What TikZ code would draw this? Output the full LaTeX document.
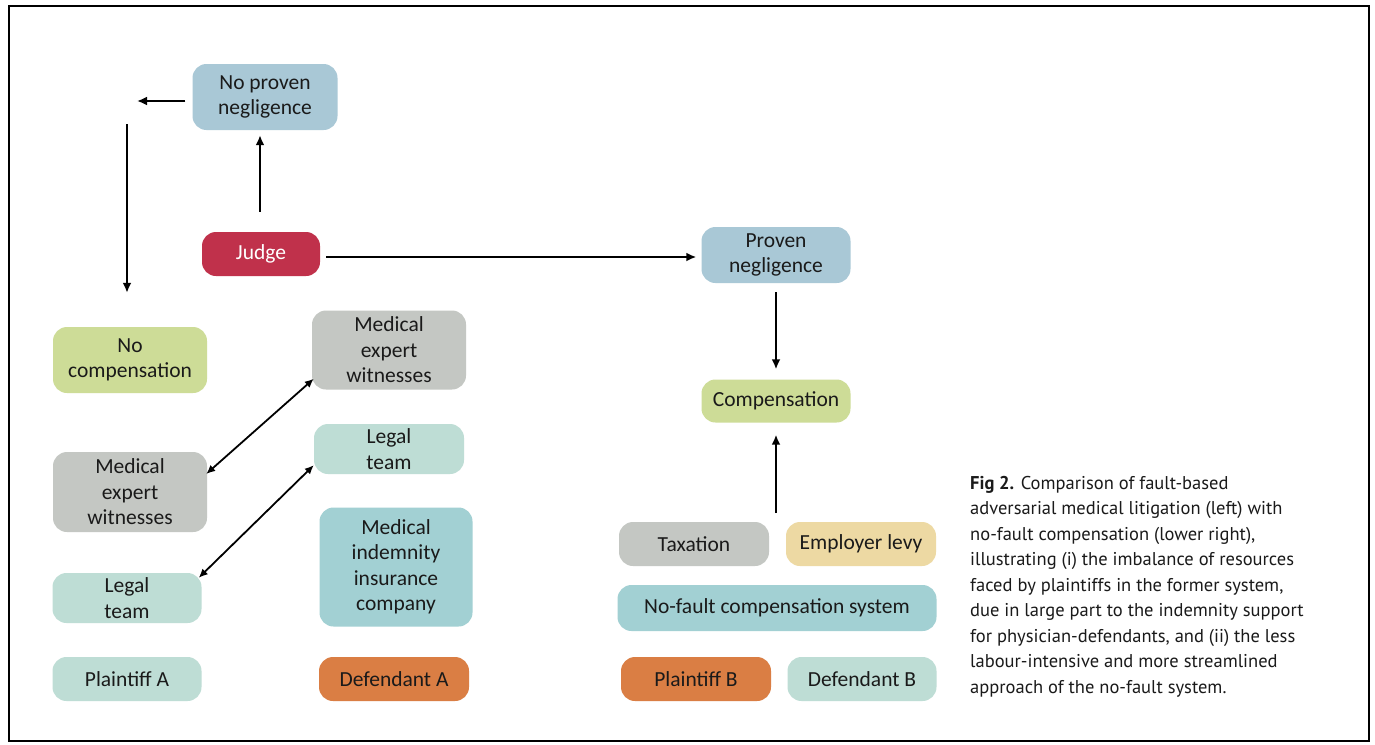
\documentclass[tikz,border=0pt]{standalone}
\usepackage{fontspec}
\setmainfont{Carlito}
\newfontfamily\capfont{PT Sans}
\usetikzlibrary{arrows.meta}
\definecolor{cblue}{HTML}{A9C8D6}
\definecolor{cjudge}{HTML}{C0314B}
\definecolor{cgreen}{HTML}{CDDC97}
\definecolor{cgrey}{HTML}{C4C7C3}
\definecolor{clteal}{HTML}{BEDDD5}
\definecolor{cteal}{HTML}{A2D0D3}
\definecolor{corange}{HTML}{DA7E44}
\definecolor{cbeige}{HTML}{EDD9A3}
\definecolor{ctext}{HTML}{1A1A1A}
\begin{document}
\begin{tikzpicture}[x=1pt,y=-1pt,
  box/.style={rounded corners=14pt, inner sep=0pt, align=center,
    font=\fontsize{21.5}{25.5}\selectfont, text=ctext},
  arr/.style={line width=2.2pt, -{Latex[length=10pt,width=9pt]}},
  darr/.style={line width=1.8pt, {Latex[length=9pt,width=8pt]}-{Latex[length=9pt,width=8pt]}}]
\useasboundingbox (0,0) rectangle (1375,744);
\fill[white] (0,0) rectangle (1375,744);
\draw[line width=2pt] (9,6) rectangle (1369,741);

% left / top
\node[box, fill=cblue, minimum width=145pt, minimum height=66pt] (np) at (265,97) {No proven\\negligence};
\node[box, fill=cjudge, text=white, minimum width=118pt, minimum height=44pt] (judge) at (261,254) {Judge};
\node[box, fill=cblue, minimum width=149pt, minimum height=56pt] (pn) at (776,255) {Proven\\negligence};
\node[box, fill=cgreen, minimum width=154pt, minimum height=66pt] (nc) at (130,360) {No\\compensation};
\node[box, fill=cgrey, minimum width=154pt, minimum height=79pt] (mewR) at (389,350) {Medical\\expert\\witnesses};
\node[box, fill=clteal, minimum width=150pt, minimum height=50pt] (legR) at (389,449) {Legal\\team};
\node[box, fill=cgrey, minimum width=154pt, minimum height=80pt] (mewL) at (130,492) {Medical\\expert\\witnesses};
\node[box, fill=cteal, minimum width=153pt, minimum height=119pt] (mic) at (396,567) {Medical\\indemnity\\insurance\\company};
\node[box, fill=clteal, minimum width=149pt, minimum height=50pt] (legL) at (127,598) {Legal\\team};
\node[box, fill=clteal, minimum width=149pt, minimum height=44pt] (pa) at (127,679) {Plaintiff A};
\node[box, fill=corange, minimum width=150pt, minimum height=44pt] (da) at (394,679) {Defendant A};

% right
\node[box, fill=cgreen, minimum width=149pt, minimum height=43pt] (comp) at (776,401) {Compensation};
\node[box, fill=cgrey, minimum width=150pt, minimum height=44pt] (tax) at (694,544) {Taxation};
\node[box, fill=cbeige, minimum width=150pt, minimum height=44pt] (lev) at (861,544) {Employer levy};
\node[box, fill=cteal, minimum width=319pt, minimum height=46pt] (nf) at (777,608) {No-fault compensation system};
\node[box, fill=corange, minimum width=150pt, minimum height=44pt] (pb) at (696,679) {Plaintiff B};
\node[box, fill=clteal, minimum width=149pt, minimum height=44pt] (db) at (862,679) {Defendant B};

% connectors
\coordinate (L) at (137,101);
\coordinate (D) at (127,124);
\coordinate (src) at (776,513);
\draw[arr, shorten <=20pt, shorten >=5pt] ([xshift=-1pt]judge.north) -- ([xshift=-1pt]judge.north |- np.south);
\draw[arr, shorten <=7pt] ([yshift=-4pt]np.west) -- (L);
\draw[arr, shorten >=34pt] (D) -- (D |- nc.north);
\draw[arr, shorten <=6pt, shorten >=5pt] ([yshift=-3pt]judge.east) -- ([yshift=-3pt]judge.east -| pn.west);
\draw[arr, shorten <=9pt, shorten >=10pt] (pn.south) -- (comp.north);
\draw[arr, shorten >=12pt] (src) -- (comp.south);
\draw[darr] ([shift={(-1pt,18pt)}]mewL.east) -- ([shift={(2pt,11pt)}]mewR.south west);
\draw[darr] ([shift={(-3pt,-5pt)}]legL.north east) -- ([yshift=9pt]legR.south west);

% caption
\node[anchor=north west, align=left, inner sep=0pt, text=ctext,
  font=\capfont\fontsize{18.5}{25.5}\selectfont] (cap) at (970,476)
{\textbf{Fig 2.} Comparison of fault-based\\
adversarial medical litigation (left) with\\
no-fault compensation (lower right),\\
illustrating (i) the imbalance of resources\\
faced by plaintiffs in the former system,\\
due in large part to the indemnity support\\
for physician-defendants, and (ii) the less\\
labour-intensive and more streamlined\\
approach of the no-fault system.};
\end{tikzpicture}
\end{document}
